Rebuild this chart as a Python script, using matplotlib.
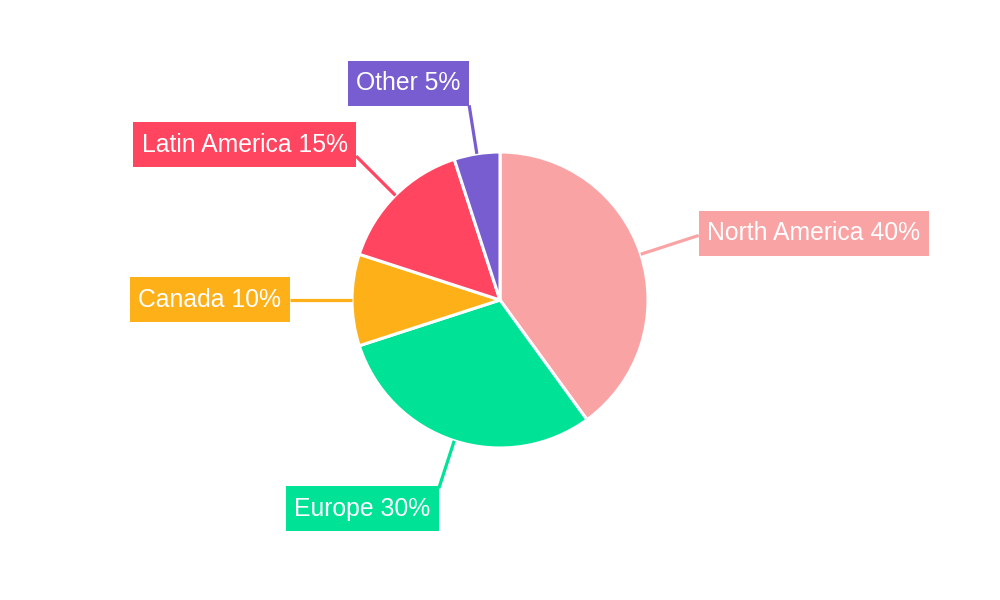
import numpy as np
import matplotlib
matplotlib.use("Agg")
import matplotlib.pyplot as plt
from matplotlib.patches import Rectangle

plt.rcParams['font.family'] = ['Liberation Sans', 'DejaVu Sans']

categories = ["North America", "Europe", "Canada", "Latin America", "Other"]
values = [40, 30, 10, 15, 5]
colors = ["#F9A3A4", "#00E396", "#FEB019", "#FF4560", "#775DD0"]

fig = plt.figure(figsize=(10, 6), dpi=100)
ax = fig.add_axes([0, 0, 1, 1])
R_px = 148.0

wedges, _ = ax.pie(values, colors=colors, startangle=90, counterclock=False,
                   radius=1.0, center=(0, 0),
                   wedgeprops=dict(edgecolor='white', linewidth=2.2))
ax.set_xlim(-500 / R_px, 500 / R_px)
ax.set_ylim(-300 / R_px, 300 / R_px)
ax.set_aspect('equal')
ax.axis('off')

HPAD, VPAD = 8.5, 10.5  # pixels
px2pt = 72.0 / fig.dpi

total = sum(values)
texts = []
for w, cat, v, c in zip(wedges, categories, values, colors):
    mid = np.deg2rad((w.theta1 + w.theta2) / 2)
    cx, cy = np.cos(mid), np.sin(mid)
    r_lab = 1.42 - 0.09 * cy ** 2
    ax.plot([cx * 1.0, cx * r_lab], [cy * 1.0, cy * r_lab], color=c, lw=2.3,
            solid_capstyle='butt', zorder=1)
    ha = 'left' if cx > 0 else 'right'
    dx = HPAD if cx > 0 else -HPAD
    pct = round(100 * v / total)
    t = ax.annotate(f"{cat} {pct}%", xy=(cx * r_lab, cy * r_lab),
                    xytext=(dx * px2pt, 0), textcoords='offset points',
                    ha=ha, va='center', color='white', fontsize=17.8, zorder=6)
    texts.append((t, c, dx, cy))

fig.canvas.draw()
renderer = fig.canvas.get_renderer()
for t, c, dx, cy in texts:
    bb = t.get_window_extent(renderer)
    h = bb.height + 2 * VPAD
    dy = (h / 2) * cy * abs(cy)
    t.xyann = (dx * px2pt, dy * px2pt)

fig.canvas.draw()
inv = ax.transData.inverted()
for t, c, dx, cy in texts:
    bb = t.get_window_extent(renderer)
    (x0, y0) = inv.transform((bb.x0 - HPAD, bb.y0 - VPAD))
    (x1, y1) = inv.transform((bb.x1 + HPAD, bb.y1 + VPAD))
    ax.add_patch(Rectangle((x0, y0), x1 - x0, y1 - y0, facecolor=c,
                           edgecolor='none', zorder=5))

fig.savefig("out.png", dpi=100, facecolor='white')
